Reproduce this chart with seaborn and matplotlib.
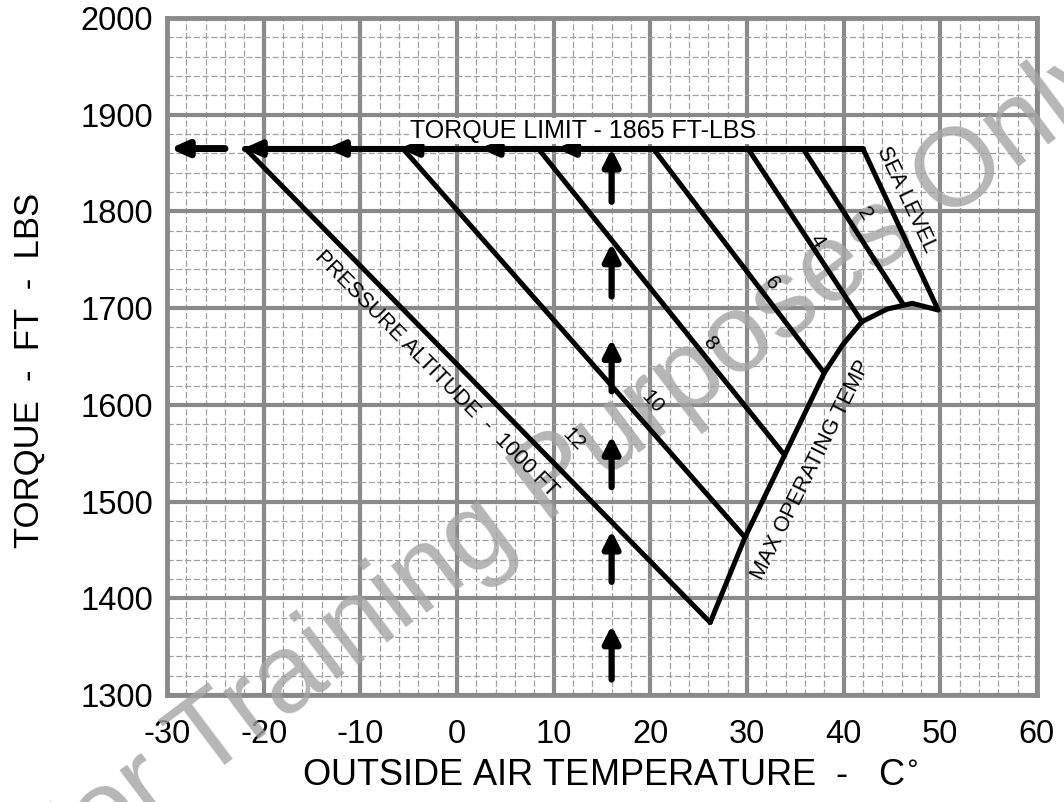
import matplotlib
matplotlib.use("Agg")
import matplotlib.pyplot as plt
from matplotlib.ticker import MultipleLocator
import seaborn as sns
import pandas as pd

# chart values
x_ticks = [-30, -20, -10, 0, 10, 20, 30, 40, 50, 60]
y_ticks = [1300, 1400, 1500, 1600, 1700, 1800, 1900, 2000]

torque_limit = 1865
alt_names = ["SEA LEVEL", "2", "4", "6", "8", "10", "12"]
alt_top_temp = [42.0, 35.8, 30.1, 20.3, 8.4, -5.6, -21.9]
alt_bottom_temp = [49.7, 46.1, 41.9, 38.0, 33.9, 29.8, 26.2]
alt_bottom_torque = [1700, 1705, 1686, 1633, 1548, 1463, 1375]

maxtemp_temp = [26.2, 29.8, 33.9, 38.0, 39.9, 41.9, 44.5, 47.1, 49.8]
maxtemp_torque = [1375, 1463, 1548, 1633, 1662, 1686, 1699, 1705, 1698]

# example path arrows
up_arrow_temp = 16.0
up_arrow_tips = [1865, 1767, 1668, 1568, 1470, 1372]
up_arrow_tails = [1810, 1712, 1614, 1515, 1417, 1316]
left_arrow_heads = [-22.1, -13.5, -5.9, 2.4, 10.3]
dash_arrow_from = -24.0
dash_arrow_to = -29.7

# labels along the lines: (text, temp, torque, angle)
line_labels = [
    ("SEA LEVEL", 46.5, 1812, -64.8),
    ("2", 42.2, 1798, -57),
    ("4", 37.3, 1770, -57),
    ("6", 32.6, 1726, -53),
    ("8", 26.2, 1664, -51),
    ("10", 20.2, 1603, -48),
    ("12", 12.0, 1564, -46),
    ("PRESSURE ALTITUDE  -  1000 FT", -2.2, 1632, -45.4),
    ("MAX OPERATING TEMP", 36.6, 1533, 63.5),
]

sns.set_style("white")
plt.rcParams["font.family"] = ["Liberation Sans", "DejaVu Sans"]
plt.rcParams["axes.unicode_minus"] = False
plt.rcParams["text.color"] = "black"
plt.rcParams["axes.labelcolor"] = "black"

fig = plt.figure(figsize=(10.64, 8.02), dpi=100)
ax = fig.add_axes([0.157, 0.1334, 0.8175, 0.8442])

# altitude lines + max operating temp curve in one long table
rows = []
for name, t0, t1, q1 in zip(alt_names, alt_top_temp, alt_bottom_temp, alt_bottom_torque):
    rows.append({"line": name, "order": 0, "temp": t0, "torque": torque_limit})
    rows.append({"line": name, "order": 1, "temp": t1, "torque": q1})
for i, (t, q) in enumerate(zip(maxtemp_temp, maxtemp_torque)):
    rows.append({"line": "max", "order": i, "temp": t, "torque": q})
rows.append({"line": "limit", "order": 0, "temp": alt_top_temp[-1], "torque": torque_limit})
rows.append({"line": "limit", "order": 1, "temp": alt_top_temp[0], "torque": torque_limit})
df = pd.DataFrame(rows).sort_values(["line", "order"])

sns.lineplot(data=df[df["line"] != "limit"], x="temp", y="torque", units="line",
             estimator=None, sort=False, color="black", lw=3.6, ax=ax, zorder=4)
sns.lineplot(data=df[df["line"] == "limit"], x="temp", y="torque",
             estimator=None, sort=False, color="black", lw=4.4, ax=ax, zorder=4)

# vertical dashed arrows
for tip, tail in zip(up_arrow_tips, up_arrow_tails):
    ax.annotate("", xy=(up_arrow_temp, tip), xytext=(up_arrow_temp, tail),
                arrowprops=dict(arrowstyle="-|>,head_length=1.0,head_width=0.5",
                                lw=4.5, color="black", shrinkA=0, shrinkB=0),
                zorder=5)

# arrow heads on the torque limit line
for h in left_arrow_heads:
    ax.annotate("", xy=(h, torque_limit), xytext=(h + 2.5, torque_limit),
                arrowprops=dict(arrowstyle="-|>,head_length=1.0,head_width=0.45",
                                lw=4.4, color="black", shrinkA=0, shrinkB=0),
                zorder=5)
ax.annotate("", xy=(dash_arrow_to, torque_limit), xytext=(dash_arrow_from, torque_limit),
            arrowprops=dict(arrowstyle="-|>,head_length=1.0,head_width=0.45",
                            lw=5, color="black", shrinkA=0, shrinkB=0),
            zorder=5)

ax.text(13.0, 1883, "TORQUE LIMIT - 1865 FT-LBS", fontsize=18, ha="center", va="center",
        bbox=dict(facecolor="white", edgecolor="none", pad=0.5), zorder=6)

for txt, t, q, ang in line_labels:
    fs = 15.5 if len(txt) > 2 else 15
    ax.text(t, q, txt, fontsize=fs, ha="center", va="center", rotation=ang,
            rotation_mode="anchor", zorder=6)

# watermark
ax.text(0.535, 0.415, "For Training Purposes Only", transform=fig.transFigure,
        fontsize=80, color="#a4a4a4", alpha=0.8, rotation=37, ha="center", va="center",
        rotation_mode="anchor", zorder=3, clip_on=False)

ax.set_xlim(-30, 60)
ax.set_ylim(1300, 2000)
ax.set_xticks(x_ticks)
ax.set_yticks(y_ticks)
ax.xaxis.set_minor_locator(MultipleLocator(2))
ax.yaxis.set_minor_locator(MultipleLocator(20))
ax.grid(which="major", color="#8a8a8a", lw=3.0, zorder=1)
ax.grid(which="minor", color="#a0a0a0", lw=0.9, ls=(0, (5, 2)), zorder=0.5)
ax.set_axisbelow(True)
for s in ax.spines.values():
    s.set_color("#8a8a8a")
    s.set_linewidth(3.5)
ax.tick_params(which="both", length=0, labelsize=23.5, labelcolor="black")
ax.tick_params(axis="x", pad=17)
ax.tick_params(axis="y", pad=10)

ax.set_xlabel("OUTSIDE AIR TEMPERATURE  -   C$^{\\circ}$", fontsize=26)
ax.set_ylabel("TORQUE  -  FT  -  LBS", fontsize=25)
ax.xaxis.set_label_coords(0.509, -0.093)
ax.yaxis.set_label_coords(-0.14, 0.48)

fig.savefig("out.png", dpi=100)
